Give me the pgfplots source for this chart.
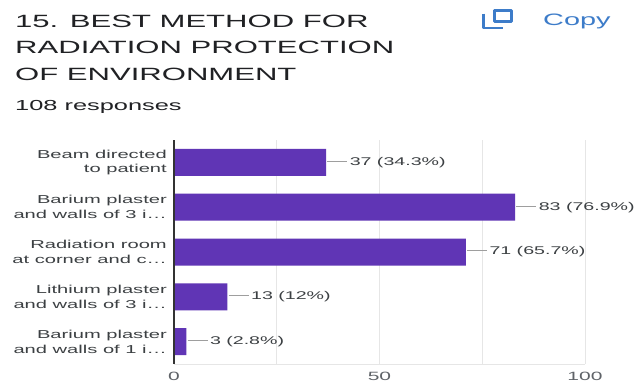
\documentclass[border=0pt]{standalone}
\usepackage{fontspec}
\setmainfont[FakeStretch=1.75]{Liberation Sans}
\usepackage{pgfplots}
\pgfplotsset{compat=1.18}
\definecolor{barpurple}{HTML}{6035B5}
\definecolor{titlegray}{HTML}{202124}
\definecolor{labelgray}{HTML}{3C4043}
\definecolor{tickgray}{HTML}{5F6368}
\definecolor{gridgray}{HTML}{E6E6E6}
\definecolor{leadergray}{HTML}{9E9E9E}
\definecolor{axisgray}{HTML}{333333}
\definecolor{copyblue}{HTML}{3D7CC9}
\begin{document}
\begin{tikzpicture}
\path[use as bounding box, fill=white] (0,0) rectangle (635bp,-383bp);
\begin{scope}[x=1bp,y=-1bp]
\node[anchor=base west, inner sep=0pt, text=titlegray, font=\fontsize{17.75bp}{22bp}\selectfont] at (15,27.5) {15. BEST METHOD FOR};
\node[anchor=base west, inner sep=0pt, text=titlegray, font=\fontsize{17.75bp}{22bp}\selectfont] at (15,53.5) {RADIATION PROTECTION};
\node[anchor=base west, inner sep=0pt, text=titlegray, font=\fontsize{17.75bp}{22bp}\selectfont] at (15,80) {OF ENVIRONMENT};
\node[anchor=base west, inner sep=0pt, text=titlegray, font=\fontsize{14.5bp}{17bp}\selectfont] at (15,110) {108 responses};
\node[anchor=base west, inner sep=0pt, text=copyblue, font=\fontsize{16.5bp}{19bp}\selectfont] at (543,25) {Copy};
\draw[copyblue, line width=2.7bp, line join=round] (494.3,10.3) rectangle (511.7,21.7);
\draw[copyblue, line width=2.7bp, line join=round] (483.3,13.5) -- (483.3,28) -- (503,28);
\end{scope}
\begin{axis}[
  at={(174bp,-364bp)}, anchor=south west,
  scale only axis, width=411bp, height=224bp,
  xmin=0, xmax=100, ymin=-0.5, ymax=4.5, y dir=reverse,
  xbar, bar width=27bp, bar shift=0pt,
  axis line style={draw=none},
  major tick length=0pt,
  xtick={0,25,50,75,100}, xticklabels={0,,50,,100},
  xmajorgrids, major grid style={gridgray, line width=0.8bp},
  ytick={0,1,2,3,4},
  yticklabels={{Beam directed\\to patient},{Barium plaster\\and walls of 3 i…},{Radiation room\\at corner and c…},{Lithium plaster\\and walls of 3 i…},{Barium plaster\\and walls of 1 i…}},
  /pgf/number format/assume math mode=true,
  xticklabel style={font=\fontsize{12bp}{14bp}\selectfont, text=tickgray, inner sep=0pt, yshift=-8bp},
  yticklabel style={font=\fontsize{11.5bp}{14.7bp}\selectfont, text=labelgray, align=right, inner sep=0pt, xshift=-7bp},
  point meta=explicit symbolic,
  nodes near coords={\textcolor{leadergray}{\rule[0.33em]{20bp}{0.8bp}}\hspace{2.5bp}\pgfplotspointmeta},
  every node near coord/.append style={anchor=west, inner sep=0pt, xshift=1bp, font=\fontsize{11.2bp}{14bp}\selectfont, text=labelgray},
  clip=false,
]
\addplot[fill=barpurple, draw=none] coordinates {(37,0) [37 (34.3\%)] (83,1) [83 (76.9\%)] (71,2) [71 (65.7\%)] (13,3) [13 (12\%)] (3,4) [3 (2.8\%)]};
\draw[gridgray, line width=0.8bp] (axis cs:0,4.5) -- (axis cs:100,4.5);
\draw[axisgray, line width=1.5bp] (axis cs:0,-0.5) -- (axis cs:0,4.5);
\end{axis}
\end{tikzpicture}
\end{document}
